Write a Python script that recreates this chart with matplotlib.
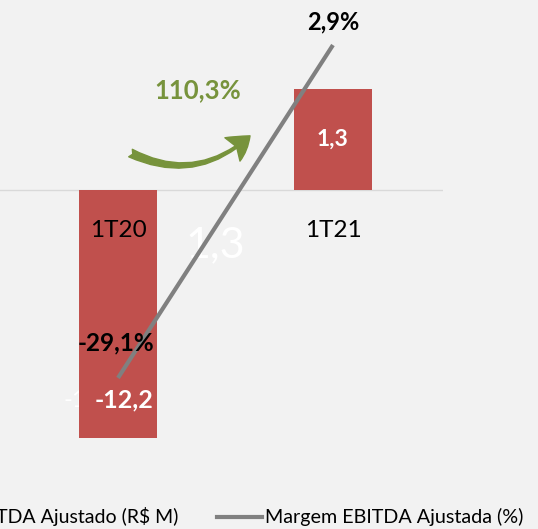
import matplotlib
matplotlib.use('Agg')  # sem GUI, salva direto em arquivo
import numpy as np
import matplotlib.pyplot as plt
from matplotlib.patches import FancyArrowPatch
from matplotlib.lines import Line2D

# Dados do gráfico
periodos = ['1T20', '1T21']
ebitda = [-12.2, 1.3]            # EBITDA Ajustado (R$ M)
margem = [-29.1, 2.9]            # Margem EBITDA Ajustada (%)
rotulos_ebitda = ['-12,2', '1,3']
rotulos_margem = ['-29,1%', '2,9%']
variacao = '110,3%'
legenda = ['EBITDA Ajustado (R$ M)', 'Margem EBITDA Ajustada (%)']

VERMELHO = '#c0504d'
CINZA = '#808080'
VERDE = '#77933c'
FUNDO = '#f2f2f2'

plt.rcParams['font.family'] = ['Lato', 'DejaVu Sans']

fig = plt.figure(figsize=(5.38, 5.29), dpi=100, facecolor=FUNDO)
ax = fig.add_axes([0, 59 / 529, 443 / 538, 470 / 529])
ax.set_facecolor(FUNDO)

# escala com parte positiva "esticada" (como no slide original)
k = 3.82
def fwd(y):
    y = np.asarray(y, dtype=float)
    return np.where(y > 0, y * k, y)
def inv(y):
    y = np.asarray(y, dtype=float)
    return np.where(y > 0, y / k, y)
ax.set_yscale('function', functions=(fwd, inv))

x = np.arange(len(periodos))
ax.set_xlim(-0.549, 1.512)
ax.set_ylim(-13.77, 2.447)

ax.axhline(0, color='#d9d9d9', lw=1, zorder=1)
ax.bar(x, ebitda, width=0.363, color=VERMELHO, zorder=2)

# rótulo "fantasma" atrás da barra
ax.annotate(rotulos_ebitda[0], (x[0], ebitda[0]), xytext=(-55, 38),
            textcoords='offset pixels', ha='left', va='center',
            fontsize=17, color='white', zorder=1)

# rótulos das categorias logo abaixo do eixo
for i, p in enumerate(periodos):
    ax.annotate(p, (x[i], 0), xytext=(0, -40), textcoords='offset pixels',
                ha='center', va='center', fontsize=17.5, color='black', zorder=4)

# rótulos das barras
ax.annotate(rotulos_ebitda[0], (x[0], ebitda[0]), xytext=(6, 38),
            textcoords='offset pixels', ha='center', va='center',
            fontsize=18, fontweight='bold', color='white', zorder=4)
ax.annotate(rotulos_ebitda[1], (x[1], ebitda[1] / 2), ha='center', va='center',
            fontsize=16.5, fontweight='bold', color='white', zorder=4)

# "1,3" grande e claro no meio
ax.text(0.485, 0.479, rotulos_ebitda[1], transform=ax.transAxes, ha='center',
        va='center', fontsize=31, color='white', zorder=1)

ax.axis('off')

# eixo secundário: margem
ax2 = ax.twinx()
ax2.set_ylim(-37.95, 7.23)
ax2.plot(x, margem, color=CINZA, lw=3, solid_capstyle='butt', zorder=3)
ax2.annotate(rotulos_margem[0], (x[0], margem[0]), xytext=(-2, 35),
             textcoords='offset pixels', ha='center', va='center',
             fontsize=17.5, fontweight='bold', color='black')
ax2.annotate(rotulos_margem[1], (x[1], margem[1]), xytext=(0, 23),
             textcoords='offset pixels', ha='center', va='center',
             fontsize=17, fontweight='bold', color='black')
ax2.axis('off')

# seta verde com a variação
seta = FancyArrowPatch((0.289, 0.677), (0.569, 0.715), transform=ax.transAxes,
                       connectionstyle='arc3,rad=0.35',
                       arrowstyle='fancy,head_length=16,head_width=20,tail_width=6',
                       color=VERDE, zorder=5)
ax.add_patch(seta)
ax.text(0.447, 0.809, variacao, transform=ax.transAxes, ha='center', va='center',
        fontsize=18.5, fontweight='bold', color=VERDE)

# legenda (primeira entrada cortada na borda esquerda)
fig.text(178 / 538, 12 / 529, legenda[0], ha='right', va='center', fontsize=14)
fig.add_artist(Line2D([217 / 538, 262 / 538], [12 / 529, 12 / 529],
                      color=CINZA, lw=3, transform=fig.transFigure))
fig.text(265 / 538, 12 / 529, legenda[1], ha='left', va='center', fontsize=14.2)

fig.savefig('out.png', dpi=100, facecolor=FUNDO)
